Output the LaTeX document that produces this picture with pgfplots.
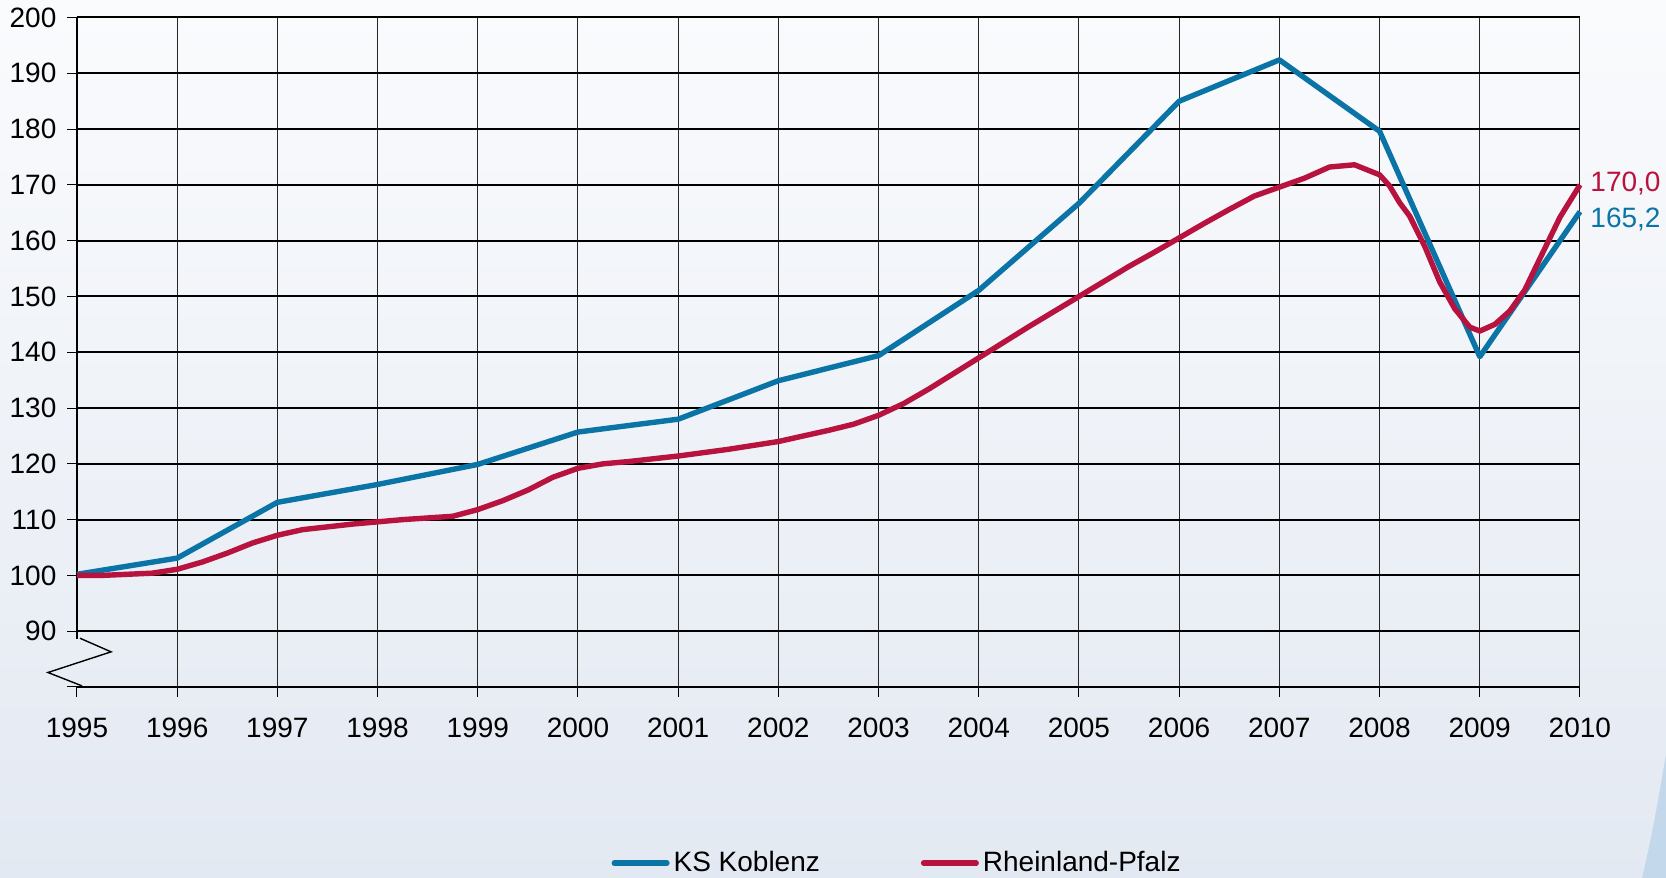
\documentclass[border=0pt]{standalone}
\usepackage{fontspec}
\setmainfont{Liberation Sans}
\usepackage{pgfplots}
\usepackage{pgfplotstable}
\pgfplotsset{compat=1.18}
\definecolor{kblue}{HTML}{0A74A6}
\definecolor{kred}{HTML}{B8123F}
\definecolor{bgtop}{HTML}{FAFBFD}
\definecolor{bgbot}{HTML}{E3E9F2}
\definecolor{swoosh}{HTML}{C3D8EA}
\newcommand{\lf}{\fontsize{14pt}{16pt}\selectfont}

\pgfplotstableread{
year val
1995 100.2
1996 103.1
1997 113.1
1998 116.3
1999 119.9
2000 125.7
2001 128.0
2002 134.9
2003 139.4
2004 151.1
2005 166.7
2006 185.0
2007 192.4
2008 179.6
2009 139.2
2010 165.2
}\koblenz

\pgfplotstableread{
year val
1995 100.0
1995.25 100.0
1995.5 100.2
1995.75 100.4
1996 101.1
1996.25 102.4
1996.5 104.0
1996.75 105.8
1997 107.2
1997.25 108.2
1997.5 108.7
1997.75 109.2
1998 109.6
1998.25 110.0
1998.5 110.3
1998.75 110.6
1999 111.8
1999.25 113.4
1999.5 115.3
1999.75 117.6
2000 119.2
2000.25 120.0
2000.5 120.4
2000.75 120.9
2001 121.4
2001.25 122.0
2001.5 122.6
2001.75 123.3
2002 124.0
2002.25 125.0
2002.5 126.0
2002.75 127.1
2003 128.7
2003.25 130.8
2003.5 133.4
2003.75 136.2
2004 139.0
2004.25 141.8
2004.5 144.6
2004.75 147.3
2005 150.0
2005.25 152.7
2005.5 155.4
2005.75 157.9
2006 160.5
2006.25 163.1
2006.5 165.6
2006.75 168.0
2007 169.6
2007.25 171.2
2007.5 173.2
2007.75 173.6
2008 171.8
2008.1 169.8
2008.2 166.8
2008.3 164.4
2008.45 159.0
2008.6 152.6
2008.75 147.8
2008.9 144.5
2009 143.8
2009.15 145.0
2009.3 147.4
2009.45 151.2
2009.6 156.8
2009.8 164.2
2010 170.0
}\rlp

\begin{document}
\begin{tikzpicture}
\shade[top color=bgtop, bottom color=bgbot] (0,0) rectangle (833pt,439pt);
\fill[swoosh] (821pt,0pt) .. controls (827pt,25pt) and (830pt,45pt) .. (833pt,62pt) -- (833pt,0pt) -- cycle;
\begin{axis}[
  at={(38.5pt,95.5pt)}, anchor=south west,
  scale only axis, width=751.5pt, height=334.75pt,
  xmin=1995, xmax=2010, ymin=80, ymax=200,
  clip=false,
  axis line style={draw=none},
  xtick={1996,...,2010},
  extra x ticks={1995},
  extra x tick style={grid=none},
  ytick={80,90,...,200},
  yticklabels={,90,100,110,120,130,140,150,160,170,180,190,200},
  /pgf/number format/1000 sep={},
  /pgf/number format/assume math mode=true,
  tick pos=left,
  tick align=outside,
  major tick length=5pt,
  tick style={black, line width=0.5pt},
  grid=major,
  major x grid style={black!85, line width=0.5pt},
  major y grid style={black, line width=1pt},
  every tick label/.append style={font=\lf, text=black},
  yticklabel style={xshift=-1.8pt},
  xticklabel style={yshift=-6.8pt},
  legend columns=2,
  legend style={draw=none, fill=none, font=\lf, at={(0.5463,-0.263)}, anchor=center,
    /tikz/every even column/.append style={column sep=48.5pt}},
  legend image code/.code={\draw[#1, line width=2.6pt, line cap=round] (1.3pt,0pt) -- (27.7pt,0pt);},
]
\draw[black, line width=1pt] (axis cs:1995,200) -- (axis cs:1995,88.6);
\draw[black, line width=0.7pt] (axis cs:1995.03,88.74) -- (axis cs:1995.34,86.3) -- (axis cs:1994.71,82.6) -- (axis cs:1995.05,80.2);
\addplot[kblue, line width=2.7pt, line join=round] table[x=year, y=val] {\koblenz};
\addlegendentry{KS Koblenz}
\addplot[kred, line width=2.7pt, line join=round] table[x=year, y=val] {\rlp};
\addlegendentry{Rheinland-Pfalz}
\node[anchor=west, text=kred, font=\lf, inner sep=0pt] at (axis cs:2010.1,170.3) {170,0};
\node[anchor=west, text=kblue, font=\lf, inner sep=0pt] at (axis cs:2010.1,163.8) {165,2};
\end{axis}
\pgfresetboundingbox
\path (0,0) rectangle (833pt,439pt);
\end{tikzpicture}
\end{document}
